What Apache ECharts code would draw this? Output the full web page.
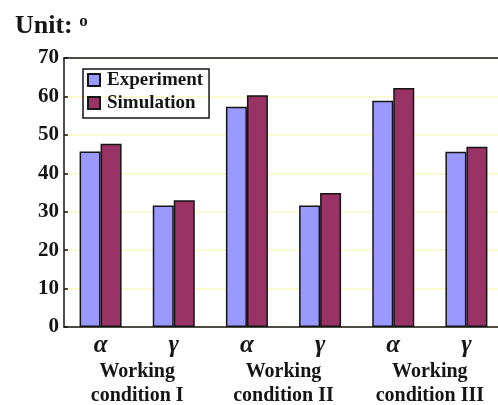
<!DOCTYPE html>
<html>
<head>
<meta charset="utf-8">
<script src="https://cdn.jsdelivr.net/npm/echarts@6/dist/echarts.min.js"></script>
<style>
  html, body { margin: 0; padding: 0; background: #fff; }
  #chart { width: 498px; height: 405px; }
</style>
</head>
<body>
<div id="chart"></div>
<script>
// Angles (degrees) per working condition: alpha and gamma for each
const categories = ['α', 'γ', 'α', 'γ', 'α', 'γ'];
const conditions = ['Working\ncondition I', 'Working\ncondition II', 'Working\ncondition III'];
const experiment = [45.7, 31.6, 57.3, 31.6, 58.9, 45.6];
const simulation = [47.7, 33.0, 60.3, 34.9, 62.2, 46.9];
const yTicks = [0, 10, 20, 30, 40, 50, 60, 70];

const serif = '"Liberation Serif", "Times New Roman", serif';
const ink = '#151515';
const chart = echarts.init(document.getElementById('chart'), null, { renderer: 'canvas' });

chart.setOption({
  animation: false,
  backgroundColor: '#fff',
  title: {
    text: '{u|Unit: }{d|o}',
    left: 10,
    top: 8,
    textStyle: {
      rich: {
        u: { fontFamily: serif, fontWeight: 'bold', fontSize: 26, color: ink },
        d: { fontFamily: serif, fontWeight: 'bold', fontSize: 17, color: ink, verticalAlign: 'top', padding: [0, 0, 3, 0] }
      }
    }
  },
  legend: {
    orient: 'vertical',
    left: 83,
    top: 69,
    padding: [1, 6, 5, 4],
    itemGap: 3,
    itemWidth: 12,
    itemHeight: 12,
    borderColor: ink,
    borderWidth: 1.5,
    icon: 'rect',
    textStyle: { fontFamily: serif, fontWeight: 'bold', fontSize: 19, lineHeight: 20, color: ink, padding: [0, 0, 0, 2] },
    data: ['Experiment', 'Simulation']
  },
  grid: {
    left: 64,
    top: 58,
    width: 439,
    height: 269,
    outerBoundsMode: 'none',
    containLabel: false,
    show: false
  },
  xAxis: [
    {
      type: 'category',
      data: categories,
      position: 'bottom',
      axisLine: { lineStyle: { color: ink, width: 1.5 } },
      axisTick: { inside: true, length: 4, lineStyle: { color: ink, width: 1.5 } },
      axisLabel: { fontFamily: serif, fontStyle: 'italic', fontWeight: 'bold', fontSize: 25, color: ink, margin: 6 }
    },
    {
      type: 'category',
      data: conditions,
      position: 'bottom',
      offset: 31,
      axisLine: { show: false },
      axisTick: { show: false },
      axisLabel: { fontFamily: serif, fontWeight: 'bold', fontSize: 20, lineHeight: 24, color: ink, margin: 2 }
    },
    {
      // frame line along the top of the plot
      type: 'category',
      data: categories,
      position: 'top',
      axisLine: { show: true, lineStyle: { color: ink, width: 1.5 } },
      axisTick: { show: false },
      axisLabel: { show: false }
    }
  ],
  yAxis: {
    type: 'value',
    min: yTicks[0],
    max: yTicks[yTicks.length - 1],
    interval: yTicks[1] - yTicks[0],
    axisLine: { show: true, lineStyle: { color: ink, width: 1.5 } },
    axisTick: { show: true, inside: true, length: 4, lineStyle: { color: ink, width: 1.5 } },
    axisLabel: { fontFamily: serif, fontWeight: 'bold', fontSize: 21, color: ink, margin: 5 },
    splitLine: { show: true, lineStyle: { color: '#fbf8c4', width: 1.5 } }
  },
  series: [
    {
      name: 'Experiment',
      type: 'bar',
      data: experiment,
      barWidth: 21,
      barGap: '0%',
      itemStyle: { color: '#9999ff', borderColor: ink, borderWidth: 1.5 }
    },
    {
      name: 'Simulation',
      type: 'bar',
      data: simulation,
      barWidth: 21,
      barGap: '0%',
      itemStyle: { color: '#993366', borderColor: ink, borderWidth: 1.5 }
    }
  ]
});
</script>
</body>
</html>
